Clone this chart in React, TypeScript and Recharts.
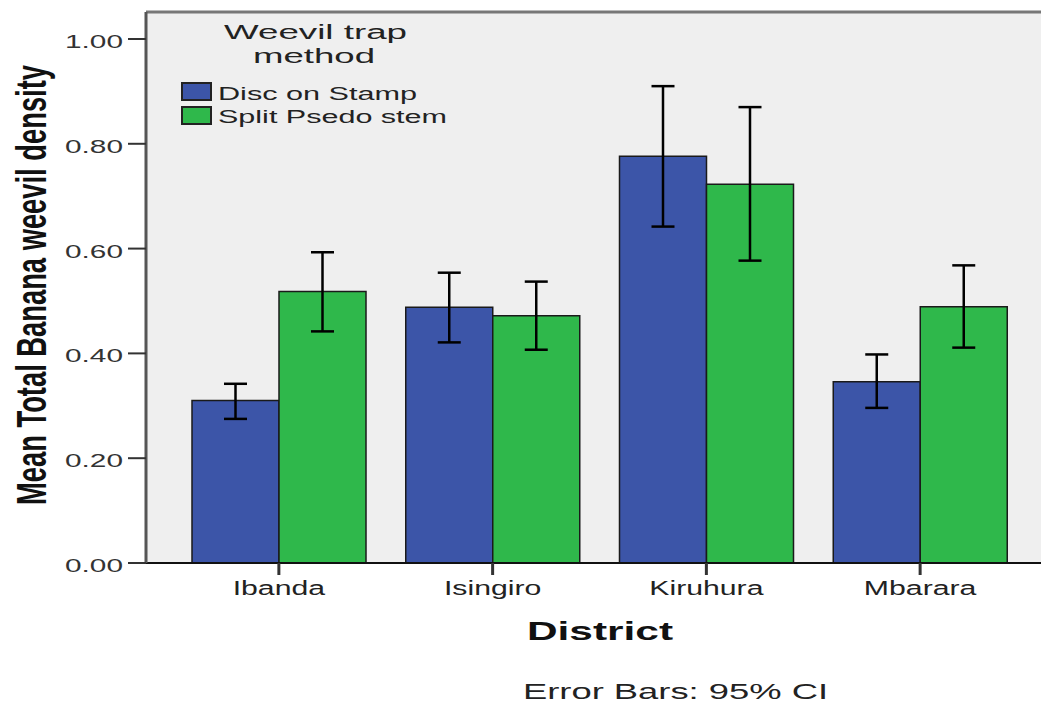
import React from 'react';
import { BarChart, Bar, XAxis, YAxis, CartesianGrid, ErrorBar, ReferenceLine } from 'recharts';

const districts = ['Ibanda', 'Isingiro', 'Kiruhura', 'Mbarara'];
const discMean = [0.310, 0.488, 0.776, 0.346];
const discLow = [0.275, 0.421, 0.642, 0.296];
const discHigh = [0.342, 0.554, 0.910, 0.398];
const splitMean = [0.518, 0.472, 0.723, 0.489];
const splitLow = [0.442, 0.407, 0.577, 0.411];
const splitHigh = [0.593, 0.537, 0.870, 0.568];
const yTicks = [0, 0.2, 0.4, 0.6, 0.8, 1.0];
const seriesNames = ['Disc on Stamp', 'Split Psedo stem'];
const legendTitle = ['Weevil trap', 'method'];
const xTitle = 'District';
const yTitle = 'Mean Total Banana weevil density';
const footnote = 'Error Bars: 95% CI';

const Y_MAX = 1.0515;
const BLUE = '#3c55a8';
const GREEN = '#2fb84b';
const FONT = '"Liberation Sans", Arial, sans-serif';

const data = districts.map((d, i) => ({
  district: d,
  disc: discMean[i],
  discErr: [discMean[i] - discLow[i], discHigh[i] - discMean[i]],
  split: splitMean[i],
  splitErr: [splitMean[i] - splitLow[i], splitHigh[i] - splitMean[i]],
}));

const YTick = (props: any) => {
  const { x, y, payload } = props;
  return (
    <text x={x} y={y + 9} textAnchor="end" fontFamily={FONT} fontSize={18.5} fill="#333"
      textLength={58} lengthAdjust="spacingAndGlyphs">
      {Number(payload.value).toFixed(2)}
    </text>
  );
};

const XTick = (props: any) => {
  const { x, y, payload } = props;
  return (
    <text transform={`translate(${x},${y + 18}) scale(1.44,1)`} x={0} y={0} textAnchor="middle"
      fontFamily={FONT} fontSize={21} fill="#222">
      {payload.value}
    </text>
  );
};

export default function App() {
  return (
    <div style={{ position: 'fixed', left: 0, top: 0, width: 1041, height: 705, overflow: 'hidden', background: '#fff' }}>
      <BarChart width={1070} height={705} data={data}
        margin={{ top: 12, right: 17, bottom: 112, left: 66 }}
        barCategoryGap={20} barGap={0}>
        <CartesianGrid horizontal={false} vertical={false} fill="#efefef" />
        <XAxis dataKey="district" height={30} padding={{ left: 26, right: 26 }}
          axisLine={{ stroke: '#111', strokeWidth: 2 }}
          tickLine={{ stroke: '#333', strokeWidth: 3 }} tickSize={12} tick={<XTick />} interval={0} />
        <YAxis width={80} domain={[0, Y_MAX]} ticks={yTicks} allowDataOverflow
          axisLine={{ stroke: '#555', strokeWidth: 3 }}
          tickLine={{ stroke: '#333', strokeWidth: 2 }} tickSize={18} tickMargin={5} tick={<YTick />} />
        <ReferenceLine y={Y_MAX} stroke="#777" strokeWidth={3} ifOverflow="visible" />
        <Bar dataKey="disc" name={seriesNames[0]} fill={BLUE} stroke="#1a1a1a" strokeWidth={1.5} isAnimationActive={false}>
          <ErrorBar dataKey="discErr" width={11.5} stroke="#000" strokeWidth={2.5} direction="y" />
        </Bar>
        <Bar dataKey="split" name={seriesNames[1]} fill={GREEN} stroke="#1a1a1a" strokeWidth={1.5} isAnimationActive={false}>
          <ErrorBar dataKey="splitErr" width={11.5} stroke="#000" strokeWidth={2.5} direction="y" />
        </Bar>
      </BarChart>
      <svg width={1041} height={705} style={{ position: 'absolute', left: 0, top: 0, pointerEvents: 'none' }}>
        <text x={315.5} y={39} textAnchor="middle" fontFamily={FONT} fontSize={19.5} fill="#222"
          textLength={183} lengthAdjust="spacingAndGlyphs">{legendTitle[0]}</text>
        <text x={314} y={63} textAnchor="middle" fontFamily={FONT} fontSize={19.5} fill="#222"
          textLength={122} lengthAdjust="spacingAndGlyphs">{legendTitle[1]}</text>
        <rect x={182} y={83} width={29} height={17} fill={BLUE} stroke="#222" strokeWidth={2} />
        <rect x={182} y={107} width={29} height={17} fill={GREEN} stroke="#222" strokeWidth={2} />
        <text x={218} y={100} fontFamily={FONT} fontSize={17.5} fill="#222"
          textLength={199} lengthAdjust="spacingAndGlyphs">{seriesNames[0]}</text>
        <text x={218} y={123} fontFamily={FONT} fontSize={17.5} fill="#222"
          textLength={229} lengthAdjust="spacingAndGlyphs">{seriesNames[1]}</text>
        <text transform="translate(46,285) scale(1.44,1) rotate(-90)" x={0} y={0} textAnchor="middle"
          fontFamily='"Liberation Sans Narrow", "Liberation Sans", Arial, sans-serif' fontWeight="bold" fontSize={30} fill="#111"
          textLength={440} lengthAdjust="spacingAndGlyphs">{yTitle}</text>
        <text x={600} y={640} textAnchor="middle" fontFamily={FONT} fontWeight="bold" fontSize={25} fill="#111"
          textLength={146} lengthAdjust="spacingAndGlyphs">{xTitle}</text>
        <text x={675.5} y={699} textAnchor="middle" fontFamily={FONT} fontSize={22} fill="#222"
          textLength={305} lengthAdjust="spacingAndGlyphs">{footnote}</text>
      </svg>
    </div>
  );
}
